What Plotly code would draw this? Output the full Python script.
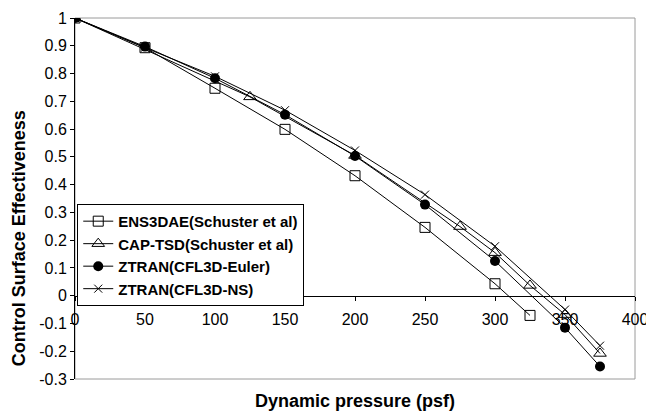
import plotly.graph_objects as go

ens_x = [0, 50, 100, 150, 200, 250, 300, 325]
ens_y = [1.0, 0.893, 0.747, 0.599, 0.432, 0.246, 0.043, -0.071]

cap_x = [0, 125, 200, 275, 300, 325, 350, 375]
cap_y = [1.0, 0.716, 0.505, 0.249, 0.155, 0.037, -0.068, -0.208]

eul_x = [0, 50, 100, 150, 200, 250, 300, 350, 375]
eul_y = [1.0, 0.897, 0.783, 0.652, 0.503, 0.328, 0.125, -0.115, -0.255]

ns_x = [0, 50, 100, 150, 200, 250, 300, 350, 375]
ns_y = [1.0, 0.893, 0.790, 0.668, 0.523, 0.364, 0.178, -0.050, -0.180]

names = ["ENS3DAE(Schuster et al)", "CAP-TSD(Schuster et al)",
         "ZTRAN(CFL3D-Euler)", "ZTRAN(CFL3D-NS)"]

x_ticks = [0, 50, 100, 150, 200, 250, 300, 350, 400]
y_ticks = [-0.3, -0.2, -0.1, 0, 0.1, 0.2, 0.3, 0.4, 0.5, 0.6, 0.7, 0.8, 0.9, 1.0]
y_tick_text = ["-0.3", "-0.2", "-0.1", "0", "0.1", "0.2", "0.3", "0.4",
               "0.5", "0.6", "0.7", "0.8", "0.9", "1"]

FONT = "Liberation Sans, Arial, sans-serif"

fig = go.Figure()
fig.add_trace(go.Scatter(x=ens_x, y=ens_y, name=names[0], mode="lines+markers",
                         legendrank=1,
                         line=dict(color="black", width=1),
                         marker=dict(symbol="square-open", size=10, color="black",
                                     line=dict(width=1))))
fig.add_trace(go.Scatter(x=cap_x, y=cap_y, name=names[1], mode="lines+markers",
                         legendrank=2,
                         line=dict(color="black", width=1),
                         marker=dict(symbol="triangle-up-open", size=11, color="black",
                                     line=dict(width=1))))
fig.add_trace(go.Scatter(x=ns_x, y=ns_y, name=names[3], mode="lines+markers",
                         legendrank=4,
                         line=dict(color="black", width=1),
                         marker=dict(symbol="x-thin", size=8, color="black",
                                     line=dict(width=1, color="black"))))
fig.add_trace(go.Scatter(x=eul_x, y=eul_y, name=names[2], mode="lines+markers",
                         legendrank=3,
                         line=dict(color="black", width=1),
                         marker=dict(symbol="circle", size=10, color="black")))

zero_pos = 0.3 / 1.3

fig.update_layout(
    width=646, height=417,
    margin=dict(l=75, r=11, t=18, b=38, autoexpand=False),
    paper_bgcolor="white", plot_bgcolor="white",
    font=dict(family=FONT, size=16, color="black"),
    showlegend=True,
    legend=dict(x=0.004, y=0.485, xanchor="left", yanchor="top",
                bgcolor="white", bordercolor="black", borderwidth=1,
                font=dict(family=FONT, size=15, color="black", weight="bold"),
                traceorder="normal", tracegroupgap=0),
    xaxis=dict(range=[0, 400], tickvals=x_ticks, ticktext=[str(v) for v in x_ticks],
               showgrid=False, zeroline=False, showline=True, linecolor="black",
               linewidth=1, ticks="outside", ticklen=4, tickcolor="black",
               anchor="free", position=zero_pos, ticklabelstandoff=5,
               ticklabeloverflow="allow",
               automargin=False, tickfont=dict(size=16)),
    yaxis=dict(range=[-0.3, 1.0], tickvals=y_ticks, ticktext=y_tick_text,
               showgrid=False, zeroline=False, showline=True, linecolor="black",
               linewidth=1, ticks="outside", ticklen=4, tickcolor="black",
               automargin=False, tickfont=dict(size=16)),
    shapes=[dict(type="rect", xref="paper", yref="paper", x0=0, x1=1, y0=0, y1=1,
                 line=dict(color="#9a9a9a", width=1), layer="below")],
    annotations=[
        dict(text="<b>Dynamic pressure (psf)</b>", xref="paper", yref="paper",
             x=0.5, y=-0.061, xanchor="center", yanchor="middle", showarrow=False,
             font=dict(family=FONT, size=18)),
        dict(text="<b>Control Surface Effectiveness</b>", xref="paper", yref="paper",
             x=-0.1, y=0.39, xanchor="center", yanchor="middle", textangle=-90,
             showarrow=False, font=dict(family=FONT, size=18)),
    ],
)

fig.write_html("out.html", config={"displayModeBar": False},
               post_script="document.body.style.margin='0';document.body.style.padding='0';")
